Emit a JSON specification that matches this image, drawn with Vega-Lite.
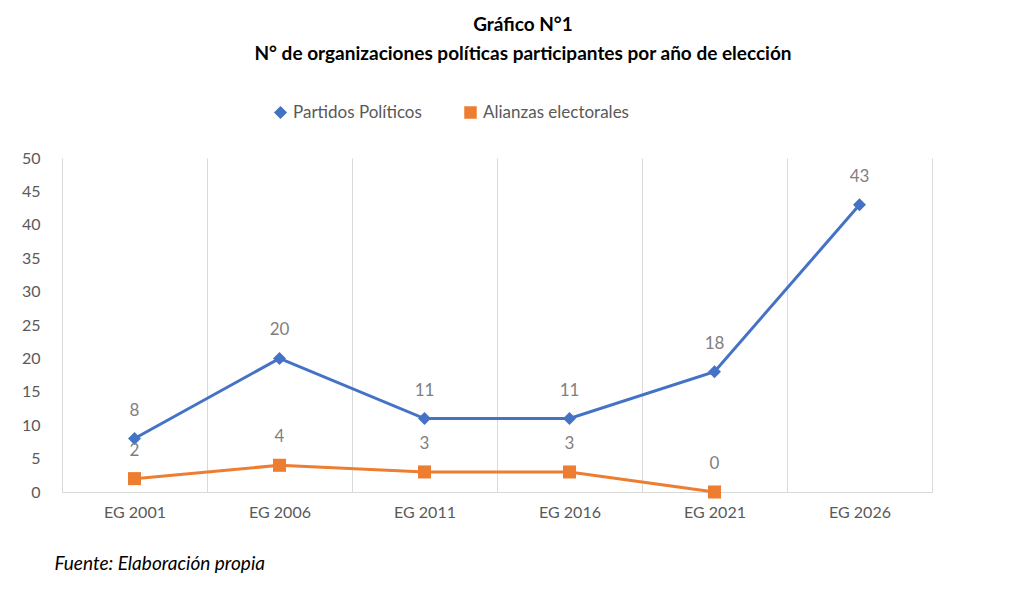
{
"$schema":"https://vega.github.io/schema/vega-lite/v6.json",
"autosize":"none",
"width":870,"height":334,
"padding":{"left":62,"top":158,"right":92,"bottom":105},
"background":"white",
"config":{"font":"Lato","view":{"stroke":null}},
"title":{"text":"Gráfico N°1","subtitle":"N° de organizaciones políticas participantes por año de elección","fontSize":19,"fontWeight":"bold","subtitleFontSize":19,"subtitleFontWeight":"bold","subtitlePadding":10,"color":"black","subtitleColor":"black","anchor":"middle","offset":40,"dx":26},
"data":{"values":[
{"eleccion":"EG 2001","serie":"Partidos Políticos","valor":8},
{"eleccion":"EG 2006","serie":"Partidos Políticos","valor":20},
{"eleccion":"EG 2011","serie":"Partidos Políticos","valor":11},
{"eleccion":"EG 2016","serie":"Partidos Políticos","valor":11},
{"eleccion":"EG 2021","serie":"Partidos Políticos","valor":18},
{"eleccion":"EG 2026","serie":"Partidos Políticos","valor":43},
{"eleccion":"EG 2001","serie":"Alianzas electorales","valor":2},
{"eleccion":"EG 2006","serie":"Alianzas electorales","valor":4},
{"eleccion":"EG 2011","serie":"Alianzas electorales","valor":3},
{"eleccion":"EG 2016","serie":"Alianzas electorales","valor":3},
{"eleccion":"EG 2021","serie":"Alianzas electorales","valor":0}
]},
"encoding":{
"x":{"field":"eleccion","type":"nominal","sort":null,"scale":{"paddingInner":0,"paddingOuter":0},
"axis":{"labelAngle":0,"labelFontSize":16,"labelColor":"#595959","labelPadding":12,"ticks":false,"grid":true,"gridColor":"#d9d9d9","tickBand":"extent","domainColor":"#d9d9d9",
"title":"Fuente: Elaboración propia","titleFontStyle":"italic","titleFontWeight":"normal","titleFontSize":19,"titleColor":"black","titleAnchor":"start","titleAlign":"left","titleX":-8,"titleY":62}},
"y":{"field":"valor","type":"quantitative","scale":{"domain":[0,50]},
"axis":{"values":[0,5,10,15,20,25,30,35,40,45,50],"grid":false,"domain":false,"ticks":false,"labelFontSize":16,"labelColor":"#595959","labelPadding":22,"title":null}},
"color":{"field":"serie","type":"nominal","sort":["Partidos Políticos","Alianzas electorales"],"scale":{"domain":["Partidos Políticos","Alianzas electorales"],"range":["#4472C4","#ED7D31"]},
"legend":{"title":null,"orient":"none","legendX":210,"legendY":-54,"direction":"horizontal","labelFontSize":17,"labelColor":"#595959","symbolSize":120,"columnPadding":40}}
},
"layer":[
{"mark":{"type":"line","strokeWidth":3}},
{"mark":{"type":"point","filled":true,"opacity":1,"size":170},"encoding":{"shape":{"field":"serie","type":"nominal","scale":{"domain":["Partidos Políticos","Alianzas electorales"],"range":["diamond","square"]},"legend":null}}},
{"mark":{"type":"text","dy":-28,"fontSize":17,"color":"#7f7f7f"},"encoding":{"text":{"field":"valor","type":"quantitative"},"color":{"value":"#7f7f7f"}}}
]
}
